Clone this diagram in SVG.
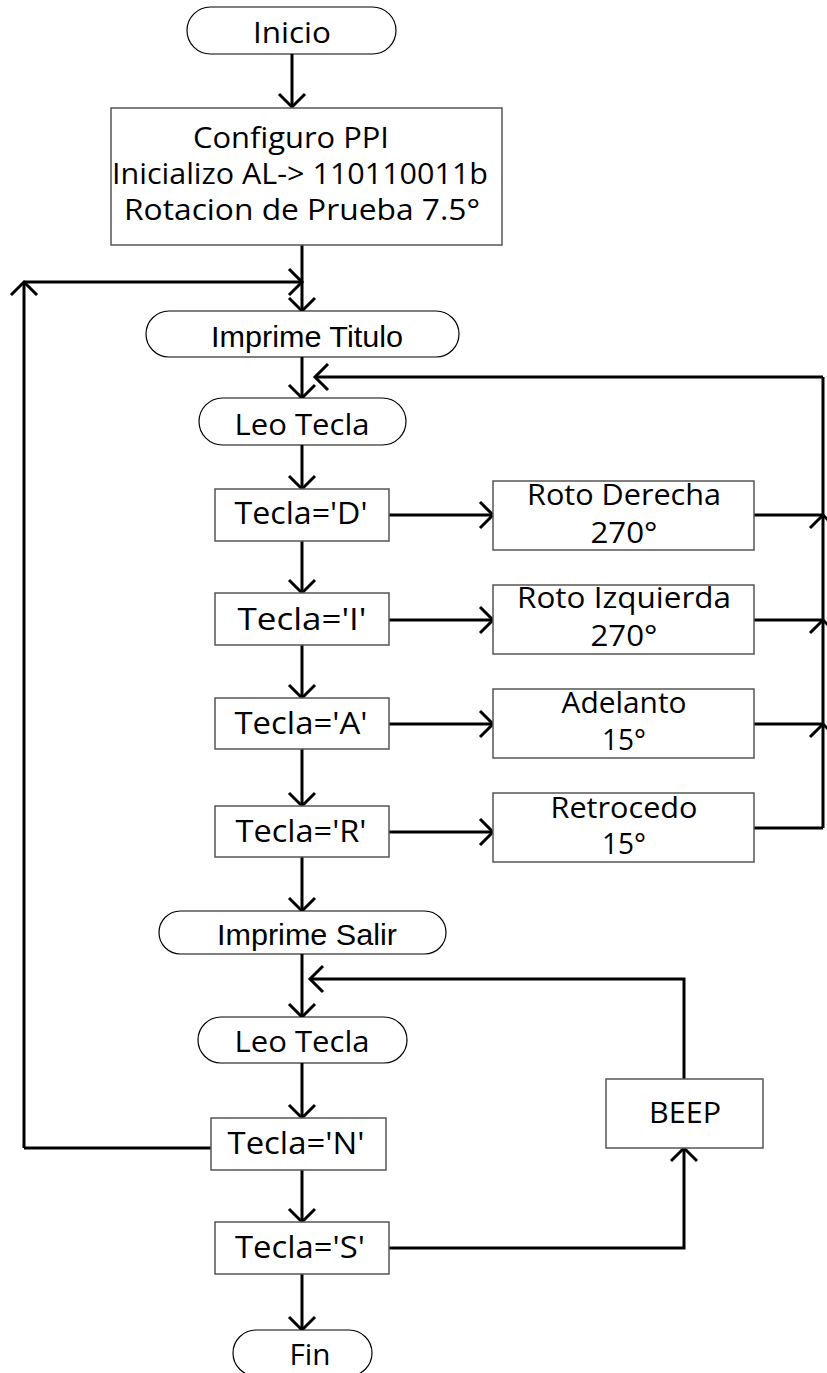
<svg xmlns="http://www.w3.org/2000/svg" width="827" height="1373" viewBox="0 0 827 1373">
<style>
.term{fill:#fff;stroke:#000;stroke-width:1.2}
.box{fill:#fff;stroke:#555;stroke-width:1.5}
.c{fill:#000;font-family:"Open Sans","DejaVu Sans",sans-serif;font-size:29px;text-anchor:middle}
.t{font-size:31px}
.a{fill:#000;font-family:"Liberation Sans",Arial,sans-serif;font-size:30px;text-anchor:middle}
.ln{fill:none;stroke:#000;stroke-width:3}
.ar{marker-end:url(#arr)}
</style>
<defs>
<marker id="arr" viewBox="-16 -16 32 32" refX="0" refY="0" markerWidth="32" markerHeight="32" markerUnits="userSpaceOnUse" orient="auto">
<path d="M-13,-13 L0,0 L-13,13" fill="none" stroke="#000" stroke-width="3"/>
</marker>
</defs>
<rect width="827" height="1373" fill="#fff"/>
<g id="connectors">
<path class="ln ar" d="M292,54 V107"/>
<path class="ln ar" d="M302,245 V311"/>
<path class="ln ar" d="M24,1148 V282"/>
<path class="ln ar" d="M24,282 H302"/>
<path class="ln ar" d="M302,357 V398"/>
<path class="ln ar" d="M823,377 H315"/>
<path class="ln ar" d="M302,445 V489"/>
<path class="ln ar" d="M302,541 V593"/>
<path class="ln ar" d="M302,645 V698"/>
<path class="ln ar" d="M302,749 V806"/>
<path class="ln ar" d="M302,857 V911"/>
<path class="ln ar" d="M389,515 H493"/>
<path class="ln ar" d="M389,620 H493"/>
<path class="ln ar" d="M389,724 H493"/>
<path class="ln ar" d="M389,832 H493"/>
<path class="ln" d="M754,515 H823"/>
<path class="ln" d="M754,620 H823"/>
<path class="ln" d="M754,724 H823"/>
<path class="ln" d="M754,828 H823"/>
<path class="ln ar" d="M823,828 V724"/>
<path class="ln ar" d="M823,724 V620"/>
<path class="ln ar" d="M823,620 V515"/>
<path class="ln" d="M823,515 V377"/>
<path class="ln ar" d="M302,954 V1017"/>
<path class="ln ar" d="M684,1079 V979 H310"/>
<path class="ln ar" d="M302,1063 V1118"/>
<path class="ln" d="M211,1148 H24"/>
<path class="ln ar" d="M302,1170 V1222"/>
<path class="ln ar" d="M389,1248 H684 V1148"/>
<path class="ln ar" d="M302,1274 V1330"/>
</g>
<g id="inicio"><rect class="term" x="187" y="7" width="209" height="47" rx="23.5"/><text class="c" x="292" y="43" textLength="78" lengthAdjust="spacingAndGlyphs">Inicio</text></g>
<g id="config"><rect class="box" x="111" y="108" width="391" height="137"/>
<text class="c" x="291" y="148" textLength="196" lengthAdjust="spacingAndGlyphs">Configuro PPI</text>
<text class="c" x="300" y="184" textLength="376" lengthAdjust="spacingAndGlyphs">Inicializo AL-&gt; 110110011b</text>
<text class="c" x="302" y="220" textLength="356" lengthAdjust="spacingAndGlyphs">Rotacion de Prueba 7.5°</text></g>
<g id="imprime-titulo"><rect class="term" x="146" y="311" width="313" height="46" rx="23"/><text class="a" x="307" y="347" textLength="192" lengthAdjust="spacingAndGlyphs">Imprime Titulo</text></g>
<g id="leo-tecla-1"><rect class="term" x="199" y="398" width="207" height="47" rx="23.5"/><text class="c" x="302" y="435" textLength="135" lengthAdjust="spacingAndGlyphs">Leo Tecla</text></g>
<g id="tecla-d"><rect class="box" x="215" y="489" width="174" height="52"/><text class="c t" x="301" y="524" textLength="133" lengthAdjust="spacingAndGlyphs">Tecla='D'</text></g>
<g id="tecla-i"><rect class="box" x="215" y="593" width="174" height="52"/><text class="c t" x="302" y="630" textLength="129" lengthAdjust="spacingAndGlyphs">Tecla='I'</text></g>
<g id="tecla-a"><rect class="box" x="215" y="698" width="174" height="51"/><text class="c t" x="301" y="734" textLength="133" lengthAdjust="spacingAndGlyphs">Tecla='A'</text></g>
<g id="tecla-r"><rect class="box" x="215" y="806" width="174" height="51"/><text class="c t" x="301" y="842" textLength="131" lengthAdjust="spacingAndGlyphs">Tecla='R'</text></g>
<g id="roto-derecha"><rect class="box" x="493" y="481" width="261" height="69"/><text class="c" x="624" y="505" textLength="194" lengthAdjust="spacingAndGlyphs">Roto Derecha</text><text class="c" x="624" y="543" textLength="67" lengthAdjust="spacingAndGlyphs">270°</text></g>
<g id="roto-izquierda"><rect class="box" x="493" y="585" width="261" height="69"/><text class="c" x="624" y="608" textLength="214" lengthAdjust="spacingAndGlyphs">Roto Izquierda</text><text class="c" x="624" y="646" textLength="67" lengthAdjust="spacingAndGlyphs">270°</text></g>
<g id="adelanto"><rect class="box" x="493" y="689" width="261" height="69"/><text class="c" x="624" y="713" textLength="125" lengthAdjust="spacingAndGlyphs">Adelanto</text><text class="c" x="624" y="750" textLength="44" lengthAdjust="spacingAndGlyphs">15°</text></g>
<g id="retrocedo"><rect class="box" x="493" y="793" width="261" height="69"/><text class="c" x="624" y="818" textLength="147" lengthAdjust="spacingAndGlyphs">Retrocedo</text><text class="c" x="624" y="854" textLength="44" lengthAdjust="spacingAndGlyphs">15°</text></g>
<g id="imprime-salir"><rect class="term" x="159" y="911" width="287" height="43" rx="21.5"/><text class="a" x="307" y="945" textLength="180" lengthAdjust="spacingAndGlyphs">Imprime Salir</text></g>
<g id="leo-tecla-2"><rect class="term" x="198" y="1017" width="209" height="46" rx="23"/><text class="c" x="302" y="1052" textLength="135" lengthAdjust="spacingAndGlyphs">Leo Tecla</text></g>
<g id="tecla-n"><rect class="box" x="211" y="1118" width="175" height="52"/><text class="c t" x="296" y="1154" textLength="137" lengthAdjust="spacingAndGlyphs">Tecla='N'</text></g>
<g id="tecla-s"><rect class="box" x="215" y="1222" width="174" height="52"/><text class="c t" x="300" y="1258" textLength="130" lengthAdjust="spacingAndGlyphs">Tecla='S'</text></g>
<g id="beep"><rect class="box" x="606" y="1079" width="157" height="69"/><text class="c" x="685" y="1123" textLength="72" lengthAdjust="spacingAndGlyphs">BEEP</text></g>
<g id="fin"><rect class="term" x="233" y="1330" width="139" height="46" rx="23"/><text class="c" x="310" y="1365" textLength="41" lengthAdjust="spacingAndGlyphs">Fin</text></g>
</svg>
